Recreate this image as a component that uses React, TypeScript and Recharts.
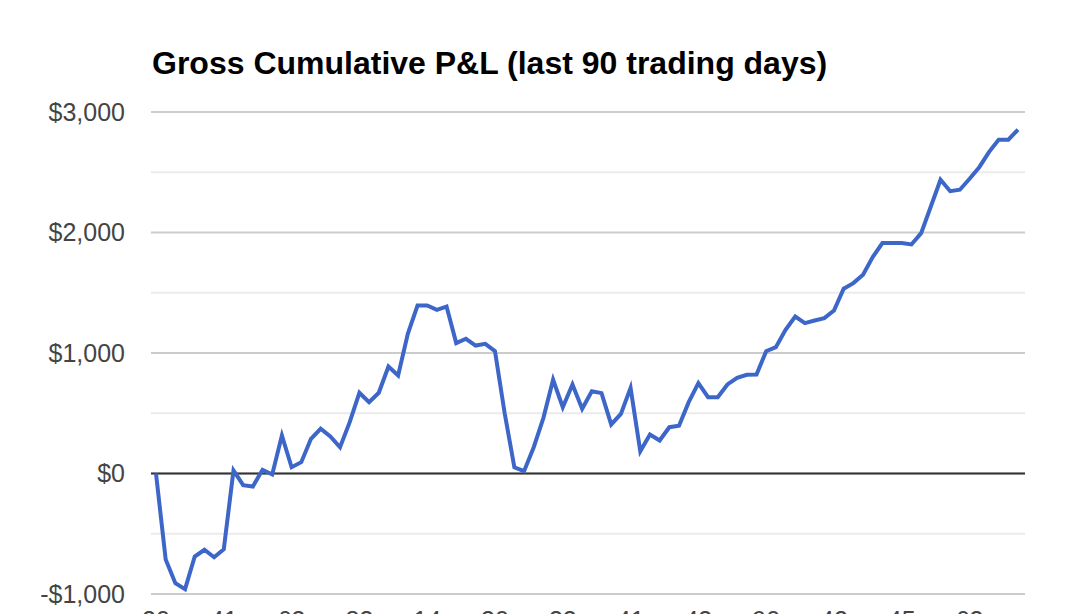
import React from "react";
import { LineChart, Line, XAxis, YAxis, CartesianGrid, ReferenceLine } from "recharts";

const pnlValues: number[] = [
  0, -714, -910, -960, -689, -633, -695, -628, 25, -97,
  -108, 31, -8, 315, 52, 94, 288, 371, 307, 218,
  426, 670, 592, 670, 888, 813, 1159, 1394, 1394, 1358,
  1386, 1082, 1118, 1062, 1076, 1015, 500, 52, 19, 218,
  462, 778, 550, 739, 537, 683, 667, 407, 495, 711,
  185, 324, 274, 384, 396, 592, 750, 633, 633, 739,
  794, 819, 822, 1015, 1048, 1193, 1303, 1248, 1270, 1289,
  1353, 1533, 1580, 1650, 1796, 1912, 1912, 1912, 1901, 1995,
  2216, 2438, 2343, 2355, 2446, 2542, 2667, 2770, 2770, 2853,
];

const tickLabels: string[] = [
  "20", "41", "63", "83", "14", "30", "32", "41", "43", "90", "42", "45", "63",
];
const tickIndexes: number[] = [0, 7, 14, 21, 28, 35, 42, 49, 56, 63, 70, 77, 84];

const majorTicks: number[] = [-1000, 0, 1000, 2000, 3000];
const minorTicks: number[] = [-500, 500, 1500, 2500];

const data = pnlValues.map((v, i) => ({ day: i, pnl: v }));

const fmtMoney = (v: number) =>
  (v < 0 ? "-$" : "$") + Math.abs(v).toLocaleString("en-US");

export default function App() {
  const font = "'Liberation Sans', Arial, sans-serif";
  return (
    <div style={{ position: "absolute", left: 0, top: 0, width: 1082, height: 640 }}>
      <div
        style={{
          position: "absolute",
          left: 152,
          top: 47,
          fontFamily: font,
          fontWeight: "bold",
          fontSize: 32,
          lineHeight: "32px",
          color: "#000",
          whiteSpace: "nowrap",
        }}
      >
        Gross Cumulative P&amp;L (last 90 trading days)
      </div>
      <LineChart
        width={1082}
        height={640}
        data={data}
        margin={{ top: 112, right: 57, bottom: 16, left: 0 }}
      >
        <CartesianGrid vertical={false} stroke="#cccccc" strokeWidth={2} />
        {minorTicks.map((t) => (
          <ReferenceLine key={t} y={t} stroke="#ebebeb" strokeWidth={2} />
        ))}
        <XAxis
          dataKey="day"
          type="category"
          ticks={tickIndexes}
          tickFormatter={(v: number) => tickLabels[tickIndexes.indexOf(v)] ?? ""}
          interval={0}
          axisLine={false}
          tickLine={false}
          tickSize={0}
          tickMargin={17}
          height={30}
          padding={{ left: 5, right: 7 }}
          tick={{ fill: "#444", fontSize: 25, fontFamily: font }}
        />
        <YAxis
          domain={[-1000, 3000]}
          ticks={majorTicks}
          tickFormatter={fmtMoney}
          axisLine={false}
          tickLine={false}
          tickSize={0}
          tickMargin={26}
          width={151}
          tick={{ fill: "#444", fontSize: 25, fontFamily: font }}
        />
        <ReferenceLine y={0} stroke="#333333" strokeWidth={2} />
        <Line
          type="linear"
          dataKey="pnl"
          stroke="#3d66c9"
          strokeWidth={4}
          dot={false}
          isAnimationActive={false}
        />
      </LineChart>
    </div>
  );
}
